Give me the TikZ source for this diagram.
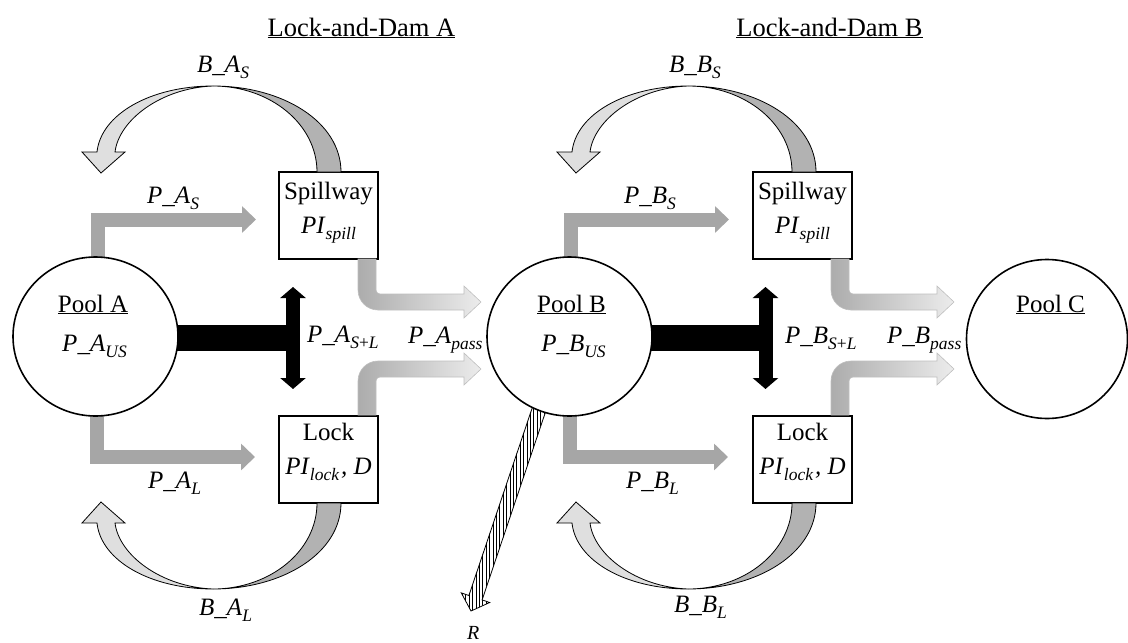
\documentclass[tikz,border=0pt]{standalone}
\usepackage{fontspec}
\setmainfont{Liberation Serif}
\usetikzlibrary{arrows.meta,shapes.geometric,backgrounds,patterns.meta}

\newcommand{\sbs}[1]{\raisebox{-0.24em}{\fontsize{17.5}{20}\selectfont\itshape #1}}
\newcommand{\lbl}[2]{\textit{#1}\sbs{#2}}
\newcommand{\RibbonArrow}[1]{%
  \begin{scope}[#1]
    \path[ribdark] (62,0) .. controls (62,50) and (4,86) .. (-66,86)
      .. controls (-9,86) and (38,48) .. (38,0) -- cycle;
    \path[riblight] (-66,86) .. controls (-128,86) and (-178,58) .. (-182,20)
      -- (-197,20) -- (-178,-1) -- (-154,20) -- (-164,20)
      .. controls (-160,52) and (-118,84) .. (-66,86) -- cycle;
  \end{scope}}

\tikzset{
  pool/.style={ellipse, draw, line width=1.6pt, fill=white, inner sep=0pt},
  stagebox/.style={rectangle, draw, line width=1.8pt, fill=white,
    minimum width=99pt, minimum height=87pt, inner sep=0pt},
  txt/.style={inner sep=0pt, font=\fontsize{25}{30}\selectfont},
  ttl/.style={inner sep=0pt, font=\fontsize{26.5}{32}\selectfont},
  grayarrow/.style={draw=gray!70, line width=14pt, line join=miter,
    -{Triangle[width=26pt,length=14pt]}},
  blackbar/.style={draw=black, line width=26pt},
  blackdouble/.style={draw=black, line width=14pt,
    {Triangle[width=25pt,length=11pt]}-{Triangle[width=25pt,length=11pt]}},
  ribdark/.style={fill=gray!60, draw=black, line width=0.8pt},
  riblight/.style={fill=gray!25, draw=black, line width=0.8pt},
  passarrow/.style={left color=gray!65, right color=gray!15, draw=gray!50, line width=0.6pt},
  hatched/.style={preaction={fill=white}, pattern={Lines[angle=90,distance=3.4pt,line width=0.9pt]},
    draw=black, line width=0.8pt},
}

\begin{document}
\begin{tikzpicture}[x=1pt,y=-1pt]
\useasboundingbox (0,0) rectangle (1128,643);

% ---------- nodes ----------
\node[pool, minimum width=165pt, minimum height=159pt] (poolA) at (95.5,336.5) {};
\node[pool, minimum width=165pt, minimum height=159pt] (poolB) at (569.5,336.5) {};
\node[pool, minimum width=161pt, minimum height=159pt] (poolC) at (1047,339) {};

\node[stagebox] (spA) at (328.5,215.5) {};
\node[stagebox] (lkA) at (328.5,459.5) {};
\node[stagebox] (spB) at (802.5,215.5) {};
\node[stagebox] (lkB) at (802.5,459.5) {};

% ---------- texts ----------
\node[ttl, anchor=base] (tA) at (361.5,36) {\underline{Lock-and-Dam A}};
\node[ttl, anchor=base] (tB) at (829.5,36) {\underline{Lock-and-Dam B}};

\node[txt, anchor=base] (poolAname) at (93,312) {\underline{Pool A}};
\node[txt, anchor=base] (poolBname) at (571.5,312) {\underline{Pool B}};
\node[txt, anchor=base] (poolCname) at (1050.5,312) {\underline{Pool C}};
\node[txt, anchor=base] (pAus) at (94.5,351) {\lbl{P\_A}{US}};
\node[txt, anchor=base] (pBus) at (573.5,351) {\lbl{P\_B}{US}};

\node[txt, anchor=base] (spAt1) at (328.5,199) {Spillway};
\node[txt, anchor=base] (spAt2) at (328.5,233) {\lbl{PI}{spill}};
\node[txt, anchor=base] (spBt1) at (802.5,199) {Spillway};
\node[txt, anchor=base] (spBt2) at (802.5,233) {\lbl{PI}{spill}};
\node[txt, anchor=base] (lkAt1) at (328.5,440) {Lock};
\node[txt, anchor=base] (lkAt2) at (328.5,474) {\lbl{PI}{lock}\kern2pt\textit{, D}};
\node[txt, anchor=base] (lkBt1) at (802.5,440) {Lock};
\node[txt, anchor=base] (lkBt2) at (802.5,474) {\lbl{PI}{lock}\kern2pt\textit{, D}};

\node[txt, anchor=base west] (lBAS) at (197,72) {\lbl{B\_A}{S}};
\node[txt, anchor=base west] (lBBS) at (669,72) {\lbl{B\_B}{S}};
\node[txt, anchor=base west] (lBAL) at (199,615) {\lbl{B\_A}{L}};
\node[txt, anchor=base west] (lBBL) at (674,612) {\lbl{B\_B}{L}};
\node[txt, anchor=base west] (lPAS) at (147,203) {\lbl{P\_A}{S}};
\node[txt, anchor=base west] (lPBS) at (624,203) {\lbl{P\_B}{S}};
\node[txt, anchor=base west] (lPAL) at (148,488) {\lbl{P\_A}{L}};
\node[txt, anchor=base west] (lPBL) at (626,488) {\lbl{P\_B}{L}};
\node[txt, anchor=base west] (lPASL) at (307,342) {\textit{P\_A}\sbs{S{\upshape+}L}};
\node[txt, anchor=base west] (lPBSL) at (785,343) {\textit{P\_B}\sbs{S{\upshape+}L}};
\node[txt, anchor=base west] (lPApass) at (408,343) {\lbl{P\_A}{pass}};
\node[txt, anchor=base west] (lPBpass) at (887,343) {\lbl{P\_B}{pass}};
\node[inner sep=0pt, font=\fontsize{20}{24}\selectfont, anchor=base west] (lR) at (467,639) {\textit{R}};

% ---------- free ends ----------
\coordinate (pasEnd) at (256,219.5);
\coordinate (palEnd) at (255,457);
\coordinate (pbsEnd) at (729,219.5);
\coordinate (pblEnd) at (728,457);
\coordinate (tAj) at (293,338);
\coordinate (tBj) at (765.5,338);
\coordinate (dAtop) at (293,287);
\coordinate (dAbot) at (293,389);
\coordinate (dBtop) at (765.5,287);
\coordinate (dBbot) at (765.5,389);
\coordinate (rEnd) at (471,611);

% ---------- connectors ----------
\begin{scope}[on background layer]
  % T-shaped bars with double arrows
  \draw[blackbar] (poolA.center |- tAj) -- (tAj);
  \draw[blackdouble] (dAtop) -- (dAbot);
  \draw[blackbar] (poolB.center |- tBj) -- (tBj);
  \draw[blackdouble] (dBtop) -- (dBbot);

  % gray bent arrows to spillway / lock
  \draw[grayarrow] ([xshift=2pt]poolA.center) |- (pasEnd);
  \draw[grayarrow] ([xshift=1pt]poolA.center) |- (palEnd);
  \draw[grayarrow] ([xshift=1.5pt]poolB.center) |- (pbsEnd);
  \draw[grayarrow] ([xshift=0.5pt]poolB.center) |- (pblEnd);

  % hatched arrow R
  \path[hatched] (549.9,399.0) -- (482.1,599.9) -- (489.7,602.5) -- (rEnd)
    -- (461.3,592.9) -- (468.9,595.5) -- (536.7,394.6) -- cycle;
\end{scope}

% shaded pass arrows, A
\shade[passarrow] (376,259) -- (376,290) arc[start angle=180, end angle=90, radius=4]
  -- (464,294) -- (464,286) -- (481,302) -- (464,318) -- (464,310) -- (378,310)
  arc[start angle=90, end angle=180, radius=20] -- (358,259) -- cycle;
\shade[passarrow] (358,415) -- (358,381) arc[start angle=180, end angle=270, radius=20]
  -- (464,361) -- (464,353) -- (481,369) -- (464,385) -- (464,377) -- (380,377)
  arc[start angle=270, end angle=180, radius=4] -- (376,415) -- cycle;
% shaded pass arrows, B
\shade[passarrow] (849,259) -- (849,290) arc[start angle=180, end angle=90, radius=4]
  -- (937,294) -- (937,286) -- (954,302) -- (937,318) -- (937,310) -- (851,310)
  arc[start angle=90, end angle=180, radius=20] -- (831,259) -- cycle;
\shade[passarrow] (831,415) -- (831,381) arc[start angle=180, end angle=270, radius=20]
  -- (937,361) -- (937,353) -- (954,369) -- (937,385) -- (937,377) -- (853,377)
  arc[start angle=270, end angle=180, radius=4] -- (849,415) -- cycle;

% ribbon feedback arrows
\RibbonArrow{shift={(279,172)}, yscale=-1}
\RibbonArrow{shift={(279,503)}}
\RibbonArrow{shift={(754,172)}, yscale=-1}
\RibbonArrow{shift={(754,503)}}
\end{tikzpicture}
\end{document}
